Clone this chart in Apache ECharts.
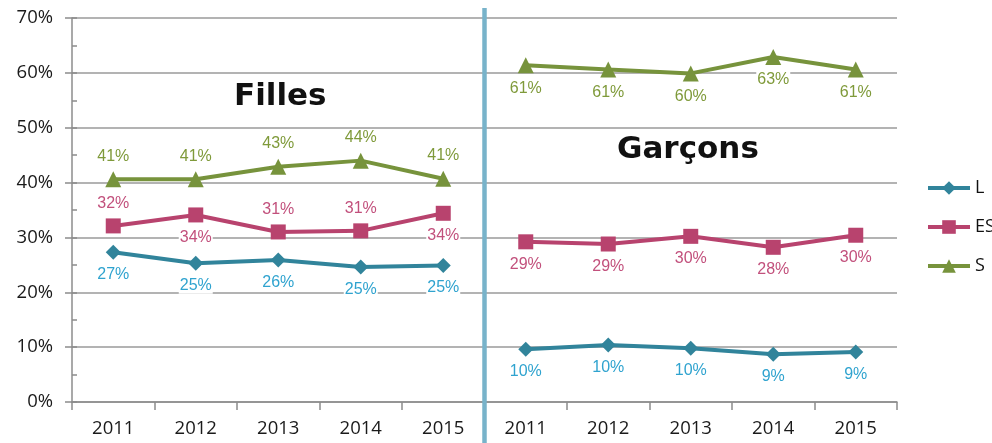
<!DOCTYPE html>
<html>
<head>
<meta charset="utf-8">
<script src="https://cdn.jsdelivr.net/npm/echarts@6/dist/echarts.min.js"></script>
<style>
  html, body { margin: 0; padding: 0; background: #fff; }
  #chart { width: 992px; height: 443px; }
</style>
</head>
<body>
<div id="chart"></div>
<script>
// categories: the five years, once for girls and once for boys
var years = ['2011', '2012', '2013', '2014', '2015'];
var categories = years.concat(years);
var groupTitles = ['Filles', 'Garçons'];
var seriesNames = ['L', 'ES', 'S'];

// values in %
var fillesL = [27.3, 25.3, 25.9, 24.6, 24.9];
var fillesES = [32.1, 34.1, 31.0, 31.2, 34.4];
var fillesS = [40.6, 40.6, 42.9, 44.0, 40.7];
var garconsL = [9.6, 10.4, 9.8, 8.7, 9.1];
var garconsES = [29.2, 28.8, 30.2, 28.2, 30.4];
var garconsS = [61.4, 60.6, 59.9, 62.9, 60.6];

var yTicks = [0, 10, 20, 30, 40, 50, 60, 70];

var colors = { L: '#31849b', ES: '#b8436e', S: '#77933c' };
var labelColors = { L: '#2fa3cf', ES: '#c2507c', S: '#7f9a3a' };
var symbols = { L: 'diamond', ES: 'rect', S: 'triangle' };
var symbolSizes = { L: 15, ES: 15, S: 16 };

var chart = echarts.init(document.getElementById('chart'));

function makeSeries (name, values, offset, positions) {
  return {
    name: name,
    type: 'line',
    data: values.map(function (v, i) {
      var item = { value: [i + offset, v] };
      if (positions) item.label = { position: positions[i] };
      return item;
    }),
    symbol: symbols[name],
    symbolSize: symbolSizes[name],
    showAllSymbol: true,
    lineStyle: { color: colors[name], width: 4 },
    itemStyle: { color: colors[name] },
    emphasis: { disabled: true },
    z: name === 'S' ? 4 : 3,
    label: {
      show: true,
      position: 'bottom',
      distance: 7,
      color: labelColors[name],
      fontSize: 16,
      fontFamily: 'Liberation Sans, Arial, sans-serif',
      backgroundColor: '#fff',
      padding: [0, 1],
      formatter: function (p) { return Math.round(p.value[1]) + '%'; }
    }
  };
}

var series = [
  makeSeries('L', fillesL, 0),
  makeSeries('ES', fillesES, 0, ['top', 'bottom', 'top', 'top', 'bottom']),
  makeSeries('S', fillesS, 0, ['top', 'top', 'top', 'top', 'top']),
  makeSeries('L', garconsL, 5),
  makeSeries('ES', garconsES, 5),
  makeSeries('S', garconsS, 5)
];

var titleFont = { fontFamily: 'DejaVu Sans', fontWeight: 'bold', fontSize: 31, color: '#111' };

chart.setOption({
  animation: false,
  title: [
    { text: groupTitles[0], left: 234, top: 81, padding: 0, textStyle: titleFont },
    { text: groupTitles[1], left: 617, top: 134, padding: 0, textStyle: titleFont }
  ],
  legend: {
    orient: 'vertical',
    left: 921,
    top: 174,
    itemWidth: 42,
    itemHeight: 17,
    itemGap: 21,
    data: seriesNames,
    lineStyle: { width: 4 },
    textStyle: { fontSize: 18, color: '#111', fontFamily: 'Open Sans' }
  },
  grid: { left: 72, right: 95, top: 18, bottom: 41 },
  xAxis: {
    type: 'category',
    data: categories,
    boundaryGap: true,
    axisLine: { lineStyle: { color: '#8c8c8c', width: 1.5 } },
    axisTick: { show: true, length: 8, interval: 0, lineStyle: { color: '#8c8c8c', width: 1.5 } },
    axisLabel: { interval: 0, margin: 17, fontSize: 18.5, color: '#1a1a1a', fontFamily: 'Open Sans' }
  },
  yAxis: [
    {
      type: 'value',
      min: yTicks[0],
      max: yTicks[yTicks.length - 1],
      interval: 10,
      axisLine: { show: true, lineStyle: { color: '#8c8c8c', width: 1.5 } },
      axisTick: { show: true, length: 7, lineStyle: { color: '#8c8c8c', width: 1.5 } },
      splitLine: { lineStyle: { color: '#9a9a9a', width: 1.5 } },
      axisLabel: { margin: 19, fontSize: 18.5, color: '#1a1a1a', fontFamily: 'Open Sans', formatter: '{value}%' }
    },
    {
      // minor ticks every 5%, drawn inside
      type: 'value',
      position: 'left',
      min: yTicks[0],
      max: yTicks[yTicks.length - 1],
      interval: 5,
      axisLine: { show: false },
      axisTick: { show: true, inside: true, length: 5, lineStyle: { color: '#8c8c8c', width: 1.5 } },
      splitLine: { show: false },
      axisLabel: { show: false }
    }
  ],
  series: series
});

// light blue divider between the two groups
var xa = chart.convertToPixel({ xAxisIndex: 0 }, 4);
var xb = chart.convertToPixel({ xAxisIndex: 0 }, 5);
chart.setOption({
  graphic: [{
    type: 'line',
    z: 100,
    shape: { x1: (xa + xb) / 2, y1: 8, x2: (xa + xb) / 2, y2: 443 },
    style: { stroke: '#78b3ca', lineWidth: 4.5 }
  }]
});
</script>
</body>
</html>
